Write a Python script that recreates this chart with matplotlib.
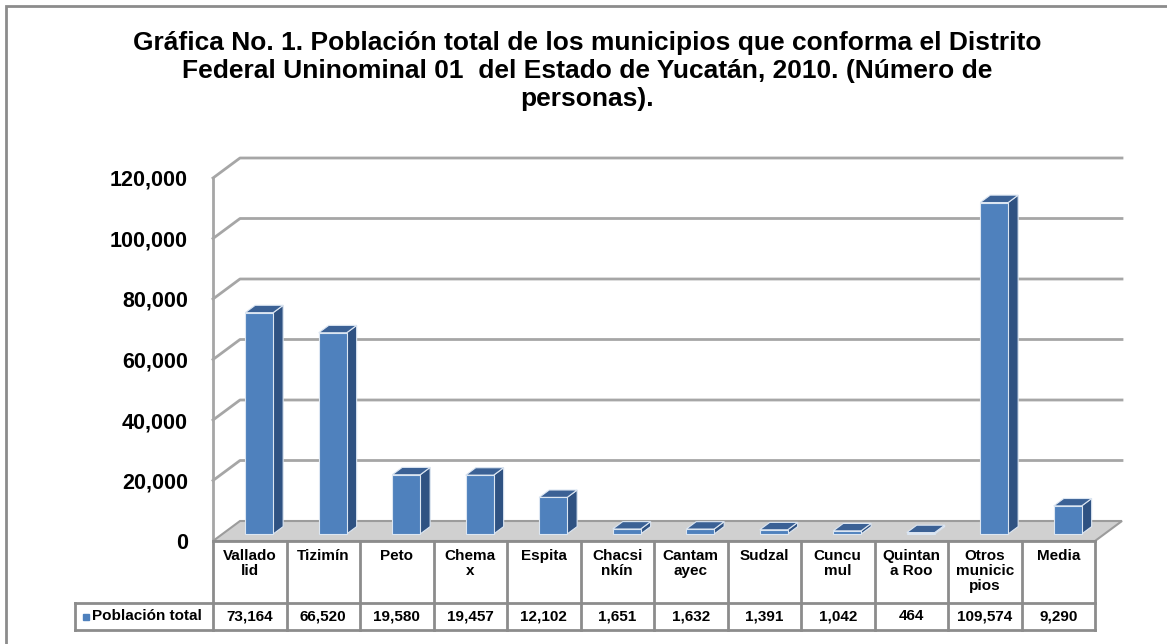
import matplotlib.pyplot as plt
from matplotlib.patches import Polygon, Rectangle

plt.rcParams['font.family'] = ['Liberation Sans', 'DejaVu Sans']

categorias = ['Vallado\nlid', 'Tizimín', 'Peto', 'Chema\nx', 'Espita', 'Chacsi\nnkín',
              'Cantam\nayec', 'Sudzal', 'Cuncu\nmul', 'Quintan\na Roo',
              'Otros\nmunicic\npios', 'Media']
poblacion = [73164, 66520, 19580, 19457, 12102, 1651, 1632, 1391, 1042, 464, 109574, 9290]
serie = 'Población total'
yticks = [0, 20000, 40000, 60000, 80000, 100000, 120000]
titulo = ('Gráfica No. 1. Población total de los municipios que conforma el Distrito\n'
          'Federal Uninominal 01  del Estado de Yucatán, 2010. (Número de\n'
          'personas).')

W, H = 1167, 644
fig = plt.figure(figsize=(W / 100, H / 100), dpi=100)

# front plane of the 3d box, in pixels
px0, px1, pytop, pybot = 213, 1095, 178, 541
ax = fig.add_axes([px0 / W, 1 - pybot / H, (px1 - px0) / W, (pybot - pytop) / H])
n = len(categorias)
ymax = yticks[-1]
ax.set_xlim(0, n)
ax.set_ylim(0, ymax)
ax.patch.set_alpha(0)
for s in ax.spines.values():
    s.set_visible(False)
ax.set_xticks([])
ax.set_yticks(yticks, [f'{v:,}' for v in yticks], fontsize=15.5, fontweight='bold')
ax.tick_params(axis='y', length=0, pad=18)

cpx = n / (px1 - px0)          # categories per pixel
vpx = ymax / (pybot - pytop)   # values per pixel
def xd(p):
    return (p - px0) * cpx
def yd(p):
    return (pybot - p) * vpx

DX, DY = 27 * cpx, 20 * vpx

# floor
ax.add_patch(Polygon([(0, 0), (n, 0), (n + DX, DY), (DX, DY)], closed=True,
                     fc='#d0d0d0', ec='#9c9c9c', lw=1.5, clip_on=False, zorder=1))
# back wall / side wall gridlines
ax.plot([0, 0], [0, ymax], color='#a6a6a6', lw=2, clip_on=False, zorder=0.5)
for v in yticks[1:]:
    ax.plot([0, DX, n + DX], [v, v + DY, v + DY], color='#a6a6a6', lw=2,
            clip_on=False, zorder=0.5)

# 3d bars
w = 0.38
f0, fd = 0.35, 0.37
sx, sy = f0 * DX, f0 * DY
dx, dy = fd * DX, fd * DY
for i, v in enumerate(poblacion):
    xc = i + 0.5 + sx
    xl, xr = xc - w / 2, xc + w / 2
    ax.add_patch(Polygon([(xr, sy), (xr + dx, sy + dy), (xr + dx, sy + dy + v), (xr, sy + v)],
                         closed=True, fc='#2f5282', ec='#dce6f2', lw=0.8, zorder=3))
    ax.add_patch(Polygon([(xl, sy + v), (xr, sy + v), (xr + dx, sy + v + dy), (xl + dx, sy + v + dy)],
                         closed=True, fc='#3b6195', ec='#dce6f2', lw=0.8, zorder=3))
    ax.bar(xc, v, width=w, bottom=sy, color='#4f81bd', edgecolor='#dce6f2', lw=0.8, zorder=4)

# data table
tc = '#8c8c8c'
r0, r1, r2 = yd(541), yd(603), yd(630)
xleg = xd(75)
ax.plot([0, n], [r0, r0], color=tc, lw=2, clip_on=False, zorder=2)
ax.plot([xleg, n], [r1, r1], color=tc, lw=2, clip_on=False, zorder=2)
ax.plot([xleg, n], [r2, r2], color=tc, lw=2, clip_on=False, zorder=2)
ax.plot([xleg, xleg], [r1, r2], color=tc, lw=2, clip_on=False, zorder=2)
for i in range(n + 1):
    ax.plot([i, i], [r0, r2], color=tc, lw=2, clip_on=False, zorder=2)
for i, (c, v) in enumerate(zip(categorias, poblacion)):
    ax.text(i + 0.5, yd(549), c, ha='center', va='top', fontsize=11,
            fontweight='bold', linespacing=1.1)
    ax.text(i + 0.5, (r1 + r2) / 2, f'{v:,}', ha='center', va='center',
            fontsize=11, fontweight='bold')
ax.plot([xd(85.5)], [(r1 + r2) / 2], marker='s', ms=4.5, color='#4f81bd',
        clip_on=False, zorder=5)
ax.text(xd(92), (r1 + r2) / 2, serie, ha='left', va='center', fontsize=11,
        fontweight='bold')

fig.text(587 / W, 1 - 31 / H, titulo, ha='center', va='top', fontsize=19,
         fontweight='bold', linespacing=1.2)

# chart border
fig.add_artist(Rectangle((6 / W, -0.1), 1.2, 1.1 - 6 / H, transform=fig.transFigure,
                         fill=False, ec='#8c8c8c', lw=2))

fig.savefig('out.png', dpi=100)
